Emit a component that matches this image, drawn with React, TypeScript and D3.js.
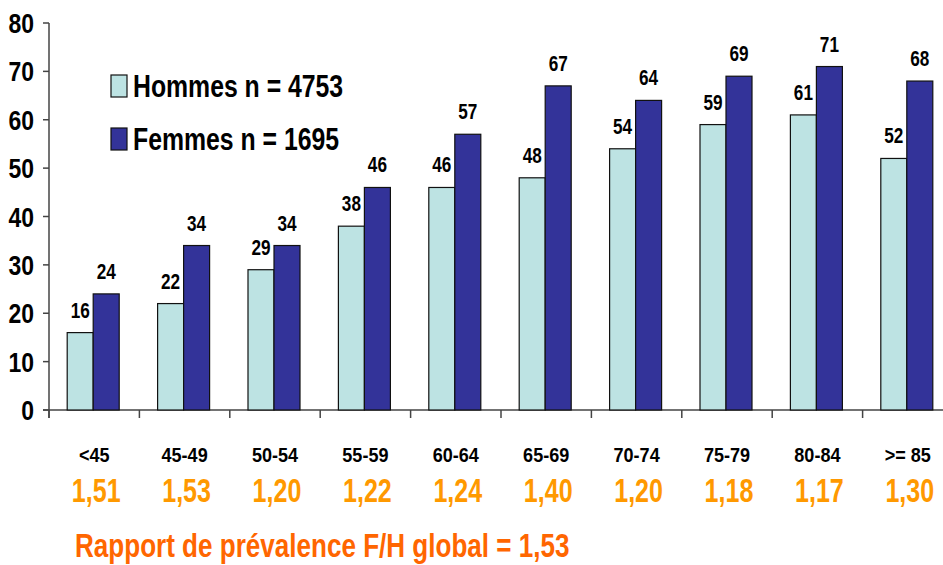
import React from "react";
import * as d3 from "d3";

const categories = ["<45", "45-49", "50-54", "55-59", "60-64", "65-69", "70-74", "75-79", "80-84", ">= 85"];
const hommes = [16, 22, 29, 38, 46, 48, 54, 59, 61, 52];
const femmes = [24, 34, 34, 46, 57, 67, 64, 69, 71, 68];
const ratios = ["1,51", "1,53", "1,20", "1,22", "1,24", "1,40", "1,20", "1,18", "1,17", "1,30"];
const yTicks = [0, 10, 20, 30, 40, 50, 60, 70, 80];
const legendLabels = ["Hommes n = 4753", "Femmes n = 1695"];
const title = "Rapport de prévalence F/H global = 1,53";

const W = 943;
const H = 565;
const FONT = "'Liberation Sans', Arial, sans-serif";
const C_H = "#BDE3E3";
const C_F = "#333399";

function T(props: { x: number; y: number; sx: number; size: number; fill: string; anchor?: string; children: React.ReactNode }) {
  const { x, y, sx, size, fill, anchor, children } = props;
  return (
    <text
      transform={`translate(${x},${y}) scale(${sx},1)`}
      textAnchor={anchor || "start"}
      fontSize={size}
      fill={fill}
    >
      {children}
    </text>
  );
}

export default function App() {
  const x = d3.scaleBand<string>().domain(categories).range([49, 953]).padding(0);
  const y = d3.scaleLinear().domain([0, 80]).range([410, 23]);
  const barW = 26;

  return (
    <svg width={W} height={H} style={{ position: "absolute", left: 0, top: 0, background: "#fff" }} fontFamily={FONT} fontWeight="bold">
      {/* y axis */}
      <line x1={49} x2={49} y1={y(80)} y2={y(0) + 8} stroke="#444" strokeWidth={1.5} />
      {yTicks.map((t) => (
        <g key={t}>
          <line x1={43} x2={49} y1={y(t)} y2={y(t)} stroke="#444" strokeWidth={1.5} />
          <T x={34} y={y(t) + 10} sx={0.82} size={28} fill="#000" anchor="end">{t}</T>
        </g>
      ))}
      {/* x axis */}
      <line x1={43} x2={953} y1={y(0)} y2={y(0)} stroke="#444" strokeWidth={1.5} />
      {categories.map((c) => (
        <line key={"t" + c} x1={x(c)!} x2={x(c)!} y1={y(0)} y2={y(0) + 8} stroke="#444" strokeWidth={1.5} />
      ))}
      {/* bars */}
      {categories.map((c, i) => {
        const cx = x(c)! + x.bandwidth() / 2 - 1;
        const mid = x(c)! + x.bandwidth() / 2;
        return (
          <g key={c}>
            <rect x={cx - barW} y={y(hommes[i])} width={barW} height={y(0) - y(hommes[i])} fill={C_H} stroke="#111" strokeWidth={1.2} />
            <rect x={cx} y={y(femmes[i])} width={barW} height={y(0) - y(femmes[i])} fill={C_F} stroke="#111" strokeWidth={1.2} />
            <T x={cx - barW / 2} y={y(hommes[i]) - 15} sx={0.78} size={22} fill="#000" anchor="middle">{hommes[i]}</T>
            <T x={cx + barW / 2} y={y(femmes[i]) - 15} sx={0.78} size={22} fill="#000" anchor="middle">{femmes[i]}</T>
            <T x={mid} y={462} sx={0.86} size={21} fill="#000" anchor="middle">{c}</T>
            <T x={mid + 2} y={502} sx={0.76} size={33} fill="#FF9900" anchor="middle">{ratios[i]}</T>
          </g>
        );
      })}
      {/* legend */}
      {legendLabels.map((l, i) => (
        <g key={l}>
          <rect x={111} y={75 + i * 53} width={16} height={22} fill={i === 0 ? C_H : C_F} stroke="#111" strokeWidth={1.2} />
          <T x={133} y={97 + i * 53} sx={0.8} size={31} fill="#000">{l}</T>
        </g>
      ))}
      <T x={75} y={557} sx={0.79} size={33} fill="#FF6600">{title}</T>
    </svg>
  );
}
